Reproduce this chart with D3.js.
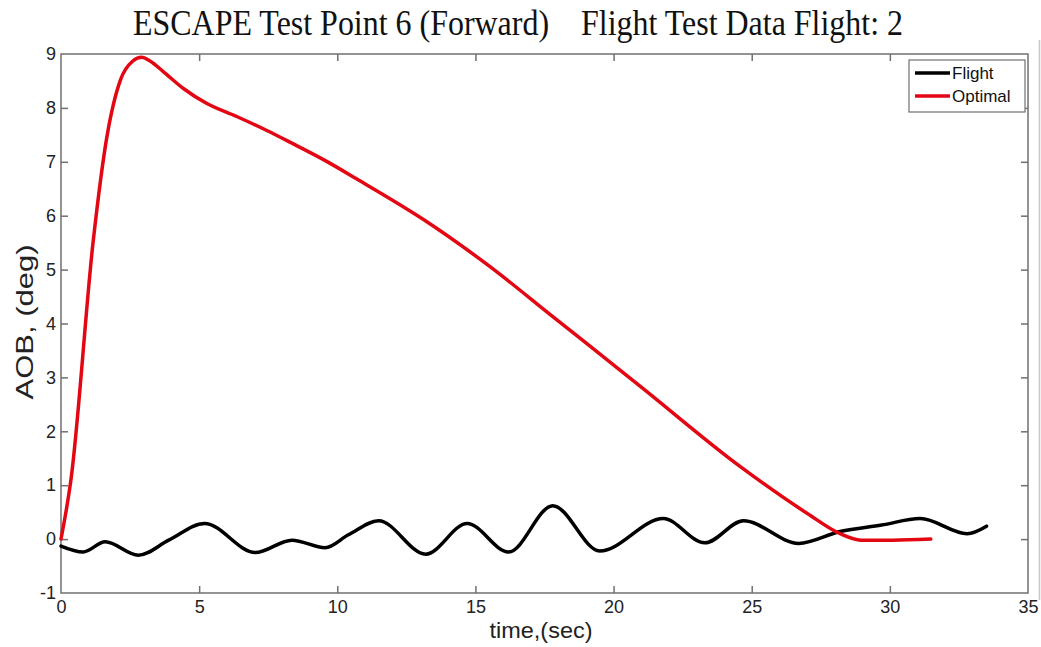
<!DOCTYPE html>
<html>
<head>
<meta charset="utf-8">
<script src="https://cdn.jsdelivr.net/npm/d3@7"></script>
<style>
  html, body { margin: 0; padding: 0; background: #fff; }
  svg { display: block; }
</style>
</head>
<body>
<svg id="chart" width="1041" height="647"></svg>
<script>
// Flight response: angle of bank (deg) vs time (sec)
const flightTime = [0, 0.8, 1.6, 2.8, 3.9, 5.2, 7.03, 8.36, 9.56, 10.4, 11.5, 13.2, 14.7, 16.2, 17.8, 19.5, 21.8, 23.3, 24.7, 26.7, 28.2, 29.7, 31.1, 32.8, 33.5];
const flightAOB  = [-0.13, -0.24, -0.05, -0.30, -0.02, 0.29, -0.25, -0.02, -0.16, 0.08, 0.34, -0.28, 0.29, -0.24, 0.62, -0.22, 0.38, -0.07, 0.34, -0.08, 0.14, 0.26, 0.38, 0.1, 0.24];

// Optimal profile
const optimalTime = [0, 0.36, 1.17, 1.65, 2.16, 2.6, 2.92, 3.22, 3.71, 4.43, 5.28, 6.36, 7.45, 8.3, 9.5, 10.71, 13.12, 15.54, 17.72, 20.98, 24.6, 27.0, 28.2, 28.95, 30.1, 31.48];
const optimalAOB  = [0, 1.1, 5.55, 7.43, 8.53, 8.87, 8.94, 8.87, 8.67, 8.36, 8.08, 7.84, 7.58, 7.36, 7.04, 6.68, 5.93, 5.05, 4.16, 2.83, 1.34, 0.48, 0.1, -0.02, -0.02, 0];

const xTicks = [0, 5, 10, 15, 20, 25, 30, 35];
const yTicks = [-1, 0, 1, 2, 3, 4, 5, 6, 7, 8, 9];
const seriesNames = ["Flight", "Optimal"];
const seriesColors = ["#000000", "#e30613"];

const titleText = "ESCAPE Test Point 6 (Forward)    Flight Test Data Flight: 2";
const xLabel = "time,(sec)";
const yLabel = "AOB, (deg)";

const svg = d3.select("#chart");
const plot = { left: 61, right: 1028, top: 54, bottom: 593 };

const x = d3.scaleLinear().domain([0, 35]).range([plot.left, plot.right]);
const y = d3.scaleLinear().domain([-1, 9]).range([plot.bottom, plot.top]);

const axisColor = "#707070";
const labelFont = "Liberation Sans, Arial, sans-serif";
const plainNumber = d => String(d);

// Page edge line at the far right
svg.append("line")
  .attr("x1", 1039.5).attr("x2", 1039.5).attr("y1", 40).attr("y2", 600)
  .attr("stroke", "#c8c8c8").attr("stroke-width", 1.5);

// Title
svg.append("text")
  .attr("x", 518).attr("y", 35)
  .attr("text-anchor", "middle")
  .attr("font-family", "Liberation Serif, Times New Roman, serif")
  .attr("font-size", 35)
  .attr("fill", "#111")
  .attr("textLength", 770)
  .attr("lengthAdjust", "spacingAndGlyphs")
  .attr("xml:space", "preserve")
  .style("white-space", "pre")
  .text(titleText);

const tickLen = 7;

// Bottom axis with labels, inward ticks
const gx = svg.append("g").attr("transform", `translate(0,${plot.bottom})`)
  .call(d3.axisBottom(x).tickValues(xTicks).tickSizeInner(-tickLen).tickSizeOuter(0).tickFormat(plainNumber));
// Top axis ticks only
const gxt = svg.append("g").attr("transform", `translate(0,${plot.top})`)
  .call(d3.axisTop(x).tickValues(xTicks).tickSizeInner(-tickLen).tickSizeOuter(0).tickFormat(""));
// Left axis with labels
const gy = svg.append("g").attr("transform", `translate(${plot.left},0)`)
  .call(d3.axisLeft(y).tickValues(yTicks).tickSizeInner(-tickLen).tickSizeOuter(0).tickFormat(plainNumber));
// Right axis ticks only
const gyr = svg.append("g").attr("transform", `translate(${plot.right},0)`)
  .call(d3.axisRight(y).tickValues(yTicks).tickSizeInner(-tickLen).tickSizeOuter(0).tickFormat(""));

[gx, gxt, gy, gyr].forEach(g => {
  g.select(".domain").remove();
  g.selectAll(".tick line").attr("stroke", axisColor).attr("stroke-width", 1.5);
  g.selectAll(".tick text")
    .attr("font-family", labelFont)
    .attr("font-size", 18)
    .attr("fill", "#222");
});
// End ticks coincide with the frame
gx.selectAll(".tick").filter(d => d === 0 || d === 35).select("line").remove();
gxt.selectAll(".tick").filter(d => d === 0 || d === 35).select("line").remove();
gy.selectAll(".tick").filter(d => d === -1 || d === 9).select("line").remove();
gyr.selectAll(".tick").filter(d => d === -1 || d === 9).select("line").remove();
gy.selectAll(".tick text").attr("x", -5);
gx.selectAll(".tick text").attr("dy", "0.62em").attr("y", 9);

// Frame
svg.append("rect")
  .attr("x", plot.left).attr("y", plot.top)
  .attr("width", plot.right - plot.left).attr("height", plot.bottom - plot.top)
  .attr("fill", "none").attr("stroke", axisColor).attr("stroke-width", 1.5);

// Axis titles
svg.append("text")
  .attr("x", 541).attr("y", 638)
  .attr("text-anchor", "middle")
  .attr("font-family", labelFont).attr("font-size", 22).attr("fill", "#222")
  .attr("textLength", 103).attr("lengthAdjust", "spacingAndGlyphs")
  .text(xLabel);
svg.append("text")
  .attr("transform", `translate(33,322) rotate(-90)`)
  .attr("text-anchor", "middle")
  .attr("font-family", labelFont).attr("font-size", 24).attr("fill", "#222")
  .attr("textLength", 155).attr("lengthAdjust", "spacingAndGlyphs")
  .text(yLabel);

// Series
const flight = flightTime.map((t, i) => [t, flightAOB[i]]);
const optimal = optimalTime.map((t, i) => [t, optimalAOB[i]]);

const flightLine = d3.line().x(d => x(d[0])).y(d => y(d[1])).curve(d3.curveMonotoneX);
const optimalLine = d3.line().x(d => x(d[0])).y(d => y(d[1])).curve(d3.curveMonotoneX);

svg.append("path").datum(flight)
  .attr("d", flightLine)
  .attr("fill", "none").attr("stroke", seriesColors[0])
  .attr("stroke-width", 3.5).attr("stroke-linejoin", "round").attr("stroke-linecap", "round");

svg.append("path").datum(optimal)
  .attr("d", optimalLine)
  .attr("fill", "none").attr("stroke", seriesColors[1])
  .attr("stroke-width", 3.5).attr("stroke-linejoin", "round").attr("stroke-linecap", "round");

// Legend
const legend = svg.append("g").attr("transform", "translate(909,60)");
legend.append("rect")
  .attr("width", 116).attr("height", 52)
  .attr("fill", "#fff").attr("stroke", axisColor).attr("stroke-width", 1.2);
seriesNames.forEach((name, i) => {
  const ly = 13 + i * 23;
  legend.append("line")
    .attr("x1", 6).attr("x2", 41).attr("y1", ly).attr("y2", ly)
    .attr("stroke", seriesColors[i]).attr("stroke-width", 3.5);
  legend.append("text")
    .attr("x", 43).attr("y", ly).attr("dy", "0.36em")
    .attr("font-family", labelFont).attr("font-size", 17).attr("fill", "#111")
    .text(name);
});
</script>
</body>
</html>
